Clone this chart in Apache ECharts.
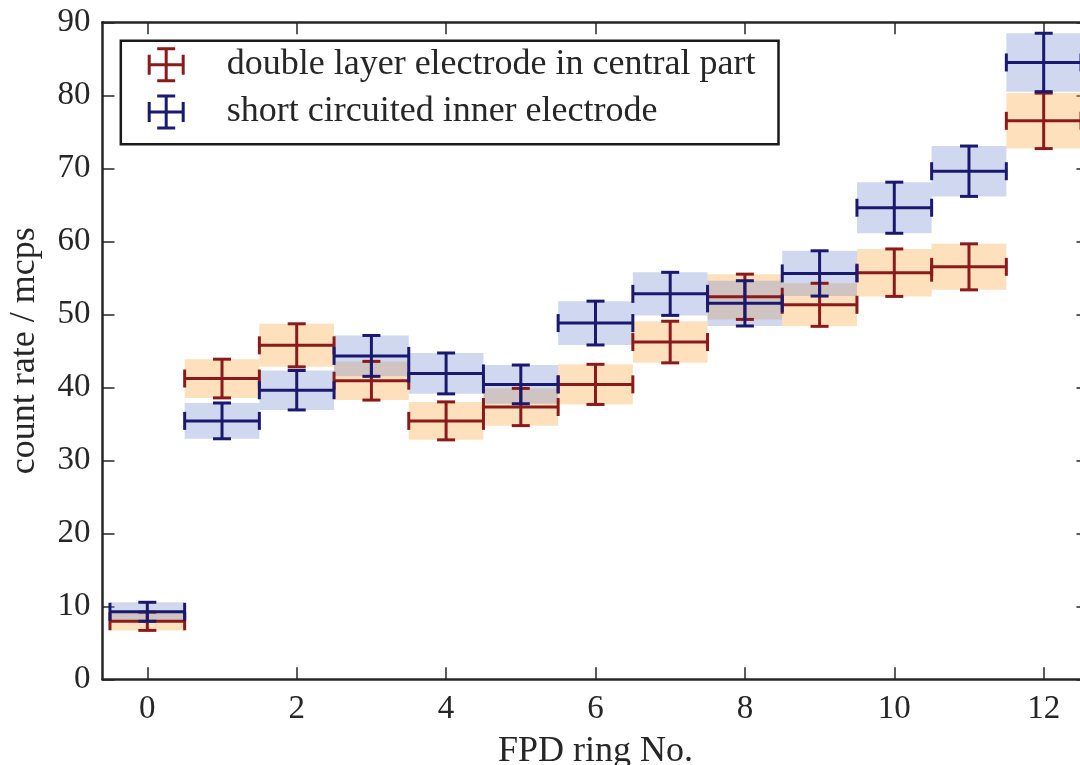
<!DOCTYPE html>
<html>
<head>
<meta charset="utf-8">
<title>FPD ring count rates</title>
<script src="https://cdn.jsdelivr.net/npm/echarts@6/dist/echarts.min.js"></script>
<style>
  html, body { margin: 0; padding: 0; background: #ffffff; overflow: hidden; }
  #chart { width: 1080px; height: 765px; }
</style>
</head>
<body>
<div id="chart"></div>
<script>
// FPD ring index
const rings = [0, 1, 2, 3, 4, 5, 6, 7, 8, 9, 10, 11, 12];

// Count rate (mcps) and its uncertainty, double layer electrode in central part
const doubleLayer    = [7.95, 41.2, 45.75, 40.9, 35.4, 37.3, 40.4, 46.2, 52.4, 51.3, 55.7, 56.5, 76.5];
const doubleLayerErr = [1.25, 2.65, 2.95, 2.65, 2.6, 2.55, 2.75, 2.85, 3.1, 2.95, 3.25, 3.15, 3.8];

// Count rate (mcps) and its uncertainty, short circuited inner electrode
const shortCircuit    = [9.25, 35.4, 39.6, 44.3, 41.9, 40.4, 48.8, 52.8, 51.5, 55.6, 64.6, 69.6, 84.5];
const shortCircuitErr = [1.3, 2.45, 2.7, 2.8, 2.8, 2.65, 3.0, 2.95, 3.1, 3.1, 3.5, 3.45, 4.0];

// Axis ticks
const xTicks = [0, 2, 4, 6, 8, 10, 12];

const NAME_DOUBLE = 'double layer electrode in central part';
const NAME_SHORT = 'short circuited inner electrode';

const FONT = '"Liberation Serif", "Times New Roman", serif';
const INK = '#262626';
const RED = '#8b1a1a';
const BLUE = '#191970';
const RED_FILL = 'rgba(255,166,64,0.35)';
const BLUE_FILL = 'rgba(118,144,206,0.35)';
const HALF_BIN = 0.5;   // each ring spans +-0.5 on the x axis
const CAP = 9;          // half length of error bar caps in px
const LW = 3;

function rows(values, errs) {
  return rings.map((r, i) => [r, values[i], errs[i]]);
}

// shaded uncertainty box for one ring
function renderBox(fill) {
  return function (params, api) {
    const x = api.value(0), y = api.value(1), e = api.value(2);
    const p0 = api.coord([x - HALF_BIN, y + e]);
    const p1 = api.coord([x + HALF_BIN, y - e]);
    return {
      type: 'rect',
      shape: { x: p0[0], y: p0[1], width: p1[0] - p0[0], height: p1[1] - p0[1] },
      style: { fill: fill }
    };
  };
}

// cross shaped error bar with caps on all four ends
function renderBars(color) {
  return function (params, api) {
    const x = api.value(0), y = api.value(1), e = api.value(2);
    const c = api.coord([x, y]);
    const l = api.coord([x - HALF_BIN, y]);
    const r = api.coord([x + HALF_BIN, y]);
    const t = api.coord([x, y + e]);
    const b = api.coord([x, y - e]);
    const st = { stroke: color, lineWidth: LW, fill: null };
    const seg = (x1, y1, x2, y2) => ({ type: 'line', shape: { x1, y1, x2, y2 }, style: st });
    return {
      type: 'group',
      children: [
        seg(l[0], c[1], r[0], c[1]),
        seg(c[0], t[1], c[0], b[1]),
        seg(l[0], c[1] - CAP, l[0], c[1] + CAP),
        seg(r[0], c[1] - CAP, r[0], c[1] + CAP),
        seg(c[0] - CAP, t[1], c[0] + CAP, t[1]),
        seg(c[0] - CAP, b[1], c[0] + CAP, b[1])
      ]
    };
  };
}

// legend glyph: horizontal and vertical bar with caps
const ICON = 'path://M0,16H37V19H0Z M0,7.5H3V27.5H0Z M34,7.5H37V27.5H34Z M17,0H20V35H17Z M9.5,0H27.5V3H9.5Z M9.5,32H27.5V35H9.5Z';

const gridLeft = 102.5, gridTop = 22.3, gridRight = 1088.5, gridBottom = 679.3;

const chart = echarts.init(document.getElementById('chart'), null, { renderer: 'canvas' });

const axisLineStyle = { color: INK, width: 2.5 };
const tickStyle = { color: INK, width: 1.5 };

chart.setOption({
  animation: false,
  backgroundColor: '#ffffff',
  textStyle: { fontFamily: FONT },
  grid: {
    left: gridLeft, top: gridTop,
    right: 1080 - gridRight, bottom: 765 - gridBottom,
    containLabel: false, outerBoundsMode: 'none'
  },
  legend: {
    left: 147.7, top: 46.7, orient: 'vertical',
    itemWidth: 37, itemHeight: 35, itemGap: 11.3,
    padding: 0,
    textStyle: { fontFamily: FONT, fontSize: 36, color: INK, padding: [0, 0, 0, 37] },
    data: [
      { name: NAME_DOUBLE, icon: ICON, itemStyle: { color: RED, borderWidth: 0 } },
      { name: NAME_SHORT, icon: ICON, itemStyle: { color: BLUE, borderWidth: 0 } }
    ],
    selectedMode: false
  },
  graphic: [{
    type: 'rect', left: 118.3, top: 38.3, z: 5,
    shape: { width: 657.7, height: 103.4 },
    style: { fill: null, stroke: '#1a1a1a', lineWidth: 2.5 }
  }],
  xAxis: [{
    type: 'value', position: 'bottom', min: -0.6, max: 12.6,
    name: 'FPD ring No.', nameLocation: 'middle', nameGap: 54,
    nameTextStyle: { fontFamily: FONT, fontSize: 36, color: INK },
    axisLine: { show: true, onZero: false, lineStyle: axisLineStyle },
    axisTick: { show: true, inside: true, length: 12, lineStyle: tickStyle, customValues: xTicks },
    axisLabel: { fontFamily: FONT, fontSize: 33, color: INK, margin: 14, customValues: xTicks },
    splitLine: { show: false }
  }, {
    type: 'value', position: 'top', min: -0.6, max: 12.6,
    axisLine: { show: true, onZero: false, lineStyle: axisLineStyle },
    axisTick: { show: true, inside: true, length: 12, lineStyle: tickStyle, customValues: xTicks },
    axisLabel: { show: false },
    splitLine: { show: false }
  }],
  yAxis: [{
    type: 'value', position: 'left', min: 0, max: 90, interval: 10,
    name: 'count rate / mcps', nameLocation: 'middle', nameGap: 60,
    nameTextStyle: { fontFamily: FONT, fontSize: 36, color: INK },
    axisLine: { show: true, onZero: false, lineStyle: axisLineStyle },
    axisTick: { show: true, inside: true, length: 12, lineStyle: tickStyle },
    axisLabel: { fontFamily: FONT, fontSize: 33, color: INK, margin: 12 },
    splitLine: { show: false }
  }, {
    type: 'value', position: 'right', min: 0, max: 90, interval: 10,
    axisLine: { show: true, onZero: false, lineStyle: axisLineStyle },
    axisTick: { show: true, inside: true, length: 12, lineStyle: tickStyle },
    axisLabel: { show: false },
    splitLine: { show: false }
  }],
  series: [
    {
      name: 'double layer box', type: 'custom', z: 2,
      renderItem: renderBox(RED_FILL), data: rows(doubleLayer, doubleLayerErr),
      encode: { x: 0, y: 1 }, silent: true
    },
    {
      name: 'short circuit box', type: 'custom', z: 2,
      renderItem: renderBox(BLUE_FILL), data: rows(shortCircuit, shortCircuitErr),
      encode: { x: 0, y: 1 }, silent: true
    },
    {
      name: NAME_DOUBLE, type: 'custom', z: 3,
      itemStyle: { color: RED },
      renderItem: renderBars(RED), data: rows(doubleLayer, doubleLayerErr),
      encode: { x: 0, y: 1 }, silent: true
    },
    {
      name: NAME_SHORT, type: 'custom', z: 3,
      itemStyle: { color: BLUE },
      renderItem: renderBars(BLUE), data: rows(shortCircuit, shortCircuitErr),
      encode: { x: 0, y: 1 }, silent: true
    }
  ]
});
</script>
</body>
</html>
